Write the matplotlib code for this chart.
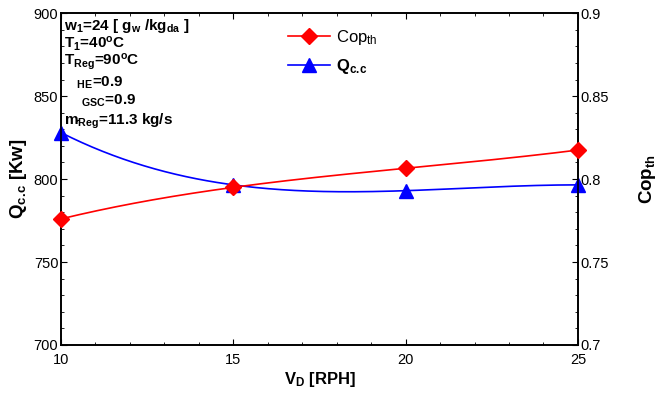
import numpy as np
import matplotlib
matplotlib.use("Agg")
import matplotlib.pyplot as plt
from matplotlib.ticker import MultipleLocator
from matplotlib.lines import Line2D

plt.rcParams['font.family'] = ['Liberation Sans', 'DejaVu Sans']
plt.rcParams['mathtext.default'] = 'regular'

vd = [10, 15, 20, 25]
q_cc = [828, 796.5, 793, 796.5]
cop_th = [0.776, 0.795, 0.8065, 0.8175]
x_ticks = [10, 15, 20, 25]
q_ticks = [700, 750, 800, 850, 900]
cop_ticks = [0.7, 0.75, 0.8, 0.85, 0.9]

fig = plt.figure(figsize=(6.67, 3.96), dpi=100)
ax = fig.add_axes([0.0915, 0.1288, 0.775, 0.838])
ax2 = ax.twinx()

xs = np.linspace(vd[0], vd[-1], 200)
qc = np.polyval(np.polyfit(vd, q_cc, 3), xs)
cc = np.polyval(np.polyfit(vd, cop_th, 3), xs)

ax.plot(xs, qc, color='blue', lw=1.2, zorder=3)
ax.plot(vd, q_cc, ls='none', marker='^', ms=10, color='blue', clip_on=False, zorder=4)
ax2.plot(xs, cc, color='red', lw=1.2, zorder=3)
ax2.plot(vd, cop_th, ls='none', marker='D', ms=8, color='red', clip_on=False, zorder=4)

ax.set_xlim(10, 25)
ax.set_ylim(700, 900)
ax2.set_ylim(0.7, 0.9)
ax.set_xticks(x_ticks)
ax.set_yticks(q_ticks)
ax2.set_yticks(cop_ticks)
ax.set_yticklabels([str(v) for v in q_ticks])
ax2.set_yticklabels(['0.7', '0.75', '0.8', '0.85', '0.9'])
ax.xaxis.set_minor_locator(MultipleLocator(1))
ax.yaxis.set_minor_locator(MultipleLocator(10))
ax2.yaxis.set_minor_locator(MultipleLocator(0.01))

for a in (ax, ax2):
    a.tick_params(which='both', direction='in', labelsize=10.5, pad=2)
    a.tick_params(which='major', length=4)
    a.tick_params(which='minor', length=2)
    for s in a.spines.values():
        s.set_linewidth(1.2)
ax.tick_params(axis='x', which='both', top=True)
ax.tick_params(axis='x', pad=6)

ax.set_xlabel('V$_{D}$ [RPH]', fontsize=12, fontweight='bold', labelpad=2)
ax.set_ylabel('Q$_{c.\\!c}$ [Kw]', fontsize=13.5, fontweight='bold', labelpad=3)
ax2.set_ylabel('Cop$_{th}$', fontsize=13.5, fontweight='bold', labelpad=20)

lines = [
    "w$_1$=24 [ g$_w$ /kg$_{da}$ ]",
    "T$_1$=40$^{o}$C",
    "T$_{Reg}$=90$^{o}$C",
    "   $_{HE}$=0.9",
    "    $_{GSC}$=0.9",
    "m$\\dot{}$$_{Reg}$=11.3 kg/s",
]
ys = [0.962, 0.908, 0.852, 0.79, 0.735, 0.675]
for t, y in zip(lines, ys):
    ax.text(0.005, y, t, transform=ax.transAxes, fontsize=11, fontweight='bold',
            va='center', ha='left')

h1 = Line2D([], [], color='red', lw=1.2, marker='D', ms=8)
h2 = Line2D([], [], color='blue', lw=1.2, marker='^', ms=10)
leg = ax.legend([h1, h2], ['Cop$_{th}$', 'Q$_{c.\\!c}$'], loc='upper left',
                bbox_to_anchor=(0.41, 1.0), frameon=False, fontsize=12,
                handlelength=2.5, labelspacing=0.6, handletextpad=0.4)
leg.get_texts()[1].set_fontweight('bold')

fig.savefig('out.png', dpi=100)
